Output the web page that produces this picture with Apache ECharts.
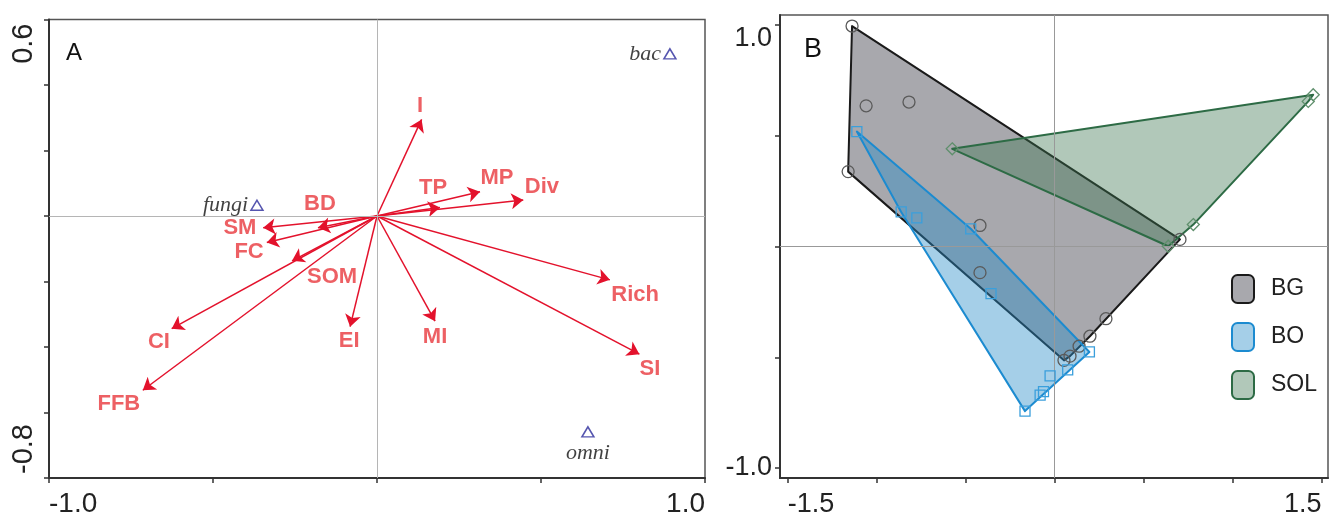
<!DOCTYPE html>
<html>
<head>
<meta charset="utf-8">
<script src="https://cdn.jsdelivr.net/npm/echarts@6/dist/echarts.min.js"></script>
<style>
html,body{margin:0;padding:0;background:#fff;}
#chart{width:1331px;height:518px;}
</style>
</head>
<body>
<div id="chart"></div>
<script>
// ---- panel A : arrows (variables) + taxa triangles ----
var varNames  = ['I', 'TP', 'MP', 'Div', 'BD', 'SM', 'FC', 'SOM', 'CI', 'FFB', 'EI', 'MI', 'Rich', 'SI'];
var varX      = [0.136, 0.192, 0.314, 0.446, -0.180, -0.347, -0.336, -0.259, -0.626, -0.714, -0.082, 0.177, 0.710, 0.800];
var varY      = [0.295, 0.026, 0.074, 0.049, -0.036, -0.036, -0.081, -0.137, -0.344, -0.532, -0.338, -0.321, -0.195, -0.422];
// where the arrow names sit
var varLabelX = [0.131, 0.171, 0.366, 0.503, -0.174, -0.418, -0.390, -0.137, -0.665, -0.787, -0.085, 0.177, 0.787, 0.832];
var varLabelY = [0.337, 0.085, 0.116, 0.088, 0.036, -0.036, -0.109, -0.185, -0.386, -0.574, -0.383, -0.368, -0.240, -0.468];

var taxaNames = ['fungi', 'bac', 'omni'];
var taxaX     = [-0.366, 0.893, 0.643];
var taxaY     = [0.033, 0.495, -0.659];
var taxaSide  = ['left', 'left', 'bottom'];

var aTicksX  = [-1.0, 1.0];
var aTicksY  = [-0.8, 0.6];

// ---- panel B : group hulls ----
var groups = ['BG', 'BO', 'SOL'];
var bgPts = [[-1.138, 0.995], [-1.059, 0.635], [-0.818, 0.652], [-1.160, 0.338], [-0.419, 0.095], [-0.419, -0.118],
             [0.705, 0.032], [0.289, -0.326], [0.199, -0.405], [0.138, -0.450], [0.087, -0.495], [0.053, -0.514]];
var boPts = [[-1.111, 0.519], [-0.862, 0.156], [-0.774, 0.129], [-0.471, 0.080], [-0.357, -0.213], [-0.166, -0.743],
             [-0.081, -0.671], [-0.062, -0.655], [-0.025, -0.584], [0.074, -0.557], [0.196, -0.476]];
var solPts = [[-0.575, 0.441], [1.454, 0.685], [1.426, 0.655], [0.780, 0.099], [0.639, 0.001]];

var bTicksX = [-1.5, -1.0, -0.5, 0, 0.5, 1.0, 1.5];
var bTicksY = [-1.0, -0.5, 0, 0.5, 1.0];
var bLabelsX = [-1.5, 1.5];
var bLabelsY = [-1.0, 1.0];

var red = '#e3122c';
var sans = '"Liberation Sans", Arial, sans-serif';

// convex hull (monotone chain)
function hull(pts){
    var p = pts.slice().sort(function(a, b){ return a[0] - b[0] || a[1] - b[1]; });
    function cross(o, a, b){ return (a[0]-o[0])*(b[1]-o[1]) - (a[1]-o[1])*(b[0]-o[0]); }
    var lower = [], upper = [];
    for(var i=0;i<p.length;i++){
        while(lower.length >= 2 && cross(lower[lower.length-2], lower[lower.length-1], p[i]) <= 0) lower.pop();
        lower.push(p[i]);
    }
    for(var j=p.length-1;j>=0;j--){
        while(upper.length >= 2 && cross(upper[upper.length-2], upper[upper.length-1], p[j]) <= 0) upper.pop();
        upper.push(p[j]);
    }
    upper.pop(); lower.pop();
    return lower.concat(upper);
}

function hullSeries(name, pts, fill, stroke, z){
    var h = hull(pts);
    return {
        type: 'custom', name: name, xAxisIndex: 1, yAxisIndex: 1, z: z, silent: true,
        data: h,
        encode: {x: 0, y: 1},
        itemStyle: {color: fill, borderColor: stroke, borderWidth: 2},
        renderItem: function(params, api){
            if(params.dataIndex !== 0) return;
            var poly = h.map(function(d){ return api.coord(d); });
            return {type: 'polygon', shape: {points: poly}, style: {fill: fill, stroke: stroke, lineWidth: 2, lineJoin: 'round'}};
        }
    };
}

function pointSeries(pts, symbol, size, stroke){
    return {
        type: 'scatter', xAxisIndex: 1, yAxisIndex: 1, z: 5, silent: true,
        data: pts, symbol: symbol, symbolSize: size,
        itemStyle: {color: 'rgba(0,0,0,0)', borderColor: stroke, borderWidth: 1.3, opacity: 1}
    };
}

var fills = {BG: 'rgba(110,110,118,0.6)', BO: 'rgba(40,140,200,0.42)', SOL: 'rgba(60,117,80,0.4)'};
var strokes = {BG: '#1a1a1a', BO: '#1c8bd0', SOL: '#2d6b45'};

var myChart = echarts.init(document.getElementById('chart'));

var option = {
    animation: false,
    backgroundColor: '#fff',
    grid: [
        {left: 49, top: 19.5, width: 656, height: 458.5, show: true, borderColor: '#555', borderWidth: 1.5},
        {left: 780, top: 15, width: 548, height: 464, show: true, borderColor: '#555', borderWidth: 1.5}
    ],
    graphic: [
        {type: 'text', x: 74, y: 53, style: {text: 'A', font: '24px "Liberation Sans", Arial', fill: '#111', textAlign: 'center', textVerticalAlign: 'middle'}},
        {type: 'text', x: 813, y: 50, style: {text: 'B', font: '27px "Liberation Sans", Arial', fill: '#111', textAlign: 'center', textVerticalAlign: 'middle'}}
    ],
    legend: {
        orient: 'vertical', left: 1231, top: 274, padding: 0, itemWidth: 22, itemHeight: 28, itemGap: 18,
        icon: 'roundRect', selectedMode: false,
        textStyle: {fontFamily: sans, fontSize: 23, color: '#222', padding: [0, 0, 0, 12]},
        data: groups.map(function(g){
            return {name: g, itemStyle: {color: fills[g], borderColor: strokes[g], borderWidth: 2}};
        })
    },
    xAxis: [
        {
            gridIndex: 0, type: 'value', min: -1, max: 1, interval: 0.5,
            axisLine: {show: true, onZero: false, lineStyle: {color: '#333', width: 2}},
            axisTick: {show: true, length: 5, lineStyle: {color: '#333', width: 1.5}},
            splitLine: {show: false},
            axisLabel: {customValues: aTicksX, formatter: function(v){ return v.toFixed(1); },
                fontFamily: sans, fontSize: 28, color: '#222', margin: 12,
                alignMinLabel: 'left', alignMaxLabel: 'right'}
        },
        {
            gridIndex: 1, type: 'value', min: -1.543, max: 1.537,
            axisLine: {show: true, onZero: false, lineStyle: {color: '#333', width: 2}},
            axisTick: {show: true, length: 5, customValues: bTicksX, lineStyle: {color: '#333', width: 1.5}},
            splitLine: {show: false},
            axisLabel: {customValues: bLabelsX, formatter: function(v){ return v.toFixed(1); },
                fontFamily: sans, fontSize: 27, color: '#222', margin: 13,
                alignMinLabel: 'left', alignMaxLabel: 'right'}
        }
    ],
    yAxis: [
        {
            gridIndex: 0, type: 'value', min: -0.8, max: 0.6, interval: 0.2,
            axisLine: {show: true, onZero: false, lineStyle: {color: '#333', width: 2}},
            axisTick: {show: true, length: 5, lineStyle: {color: '#333', width: 1.5}},
            splitLine: {show: false},
            axisLabel: {customValues: aTicksY, formatter: function(v){ return v.toFixed(1); }, rotate: 90,
                fontFamily: sans, fontSize: 29, color: '#222', margin: 11, padding: [0, 4, 0, 4],
                alignMinLabel: 'left', alignMaxLabel: 'right'}
        },
        {
            gridIndex: 1, type: 'value', min: -1.045, max: 1.045,
            axisLine: {show: true, onZero: false, lineStyle: {color: '#333', width: 2}},
            axisTick: {show: true, length: 5, customValues: bTicksY, lineStyle: {color: '#333', width: 1.5}},
            splitLine: {show: false},
            axisLabel: {customValues: bLabelsY, formatter: function(v){ return v.toFixed(1); },
                fontFamily: sans, fontSize: 27, color: '#222', margin: 8,
                verticalAlignMinLabel: 'middle', verticalAlignMaxLabel: 'top'}
        }
    ],
    series: [
        // zero lines panel A
        {
            type: 'line', xAxisIndex: 0, yAxisIndex: 0, data: [], z: 0, silent: true,
            markLine: {silent: true, symbol: ['none', 'none'], label: {show: false},
                lineStyle: {color: '#b5b5b5', width: 1, type: 'solid'},
                data: [{xAxis: 0}, {yAxis: 0}]}
        },
        // zero lines panel B
        {
            type: 'line', xAxisIndex: 1, yAxisIndex: 1, data: [], z: 0, silent: true,
            markLine: {silent: true, symbol: ['none', 'none'], label: {show: false},
                lineStyle: {color: '#999', width: 1, type: 'solid'},
                data: [{xAxis: 0}, {yAxis: 0}]}
        },
        {
            type: 'lines', coordinateSystem: 'cartesian2d', xAxisIndex: 0, yAxisIndex: 0, silent: true, z: 3,
            symbol: ['none', 'arrow'], symbolSize: [0, 12],
            lineStyle: {color: red, width: 1.5, opacity: 1},
            data: varNames.map(function(n, i){ return {name: n, coords: [[0, 0], [varX[i], varY[i]]]}; })
        },
        {
            type: 'scatter', xAxisIndex: 0, yAxisIndex: 0, silent: true, z: 4,
            symbolSize: 1, itemStyle: {color: 'rgba(0,0,0,0)'},
            label: {show: true, position: 'inside', formatter: '{b}', color: '#e8383d',
                fontFamily: sans, fontWeight: 'bold', fontSize: 22},
            data: varNames.map(function(n, i){ return {name: n, value: [varLabelX[i], varLabelY[i]]}; })
        },
        {
            type: 'scatter', xAxisIndex: 0, yAxisIndex: 0, silent: true, z: 4,
            symbol: 'triangle', symbolSize: [12, 10],
            itemStyle: {color: 'rgba(0,0,0,0)', borderColor: '#2b2b9b', borderWidth: 1.5},
            data: taxaNames.map(function(n, i){
                return {name: n, value: [taxaX[i], taxaY[i]],
                    label: {show: true, position: taxaSide[i], distance: taxaSide[i] === 'bottom' ? 5 : 2, formatter: '{b}',
                        fontFamily: '"Liberation Serif", "Times New Roman", serif', fontStyle: 'italic',
                        fontSize: 22, color: '#111'}};
            })
        },
        hullSeries('BG', bgPts, fills.BG, strokes.BG, 1),
        hullSeries('BO', boPts, fills.BO, strokes.BO, 2),
        hullSeries('SOL', solPts, fills.SOL, strokes.SOL, 3),
        pointSeries(bgPts, 'circle', 12, '#5a5a5a'),
        pointSeries(boPts, 'rect', 10, '#3a9fdc'),
        pointSeries(solPts, 'diamond', 12, '#5f8f6c')
    ]
};

myChart.setOption(option);
</script>
</body>
</html>
